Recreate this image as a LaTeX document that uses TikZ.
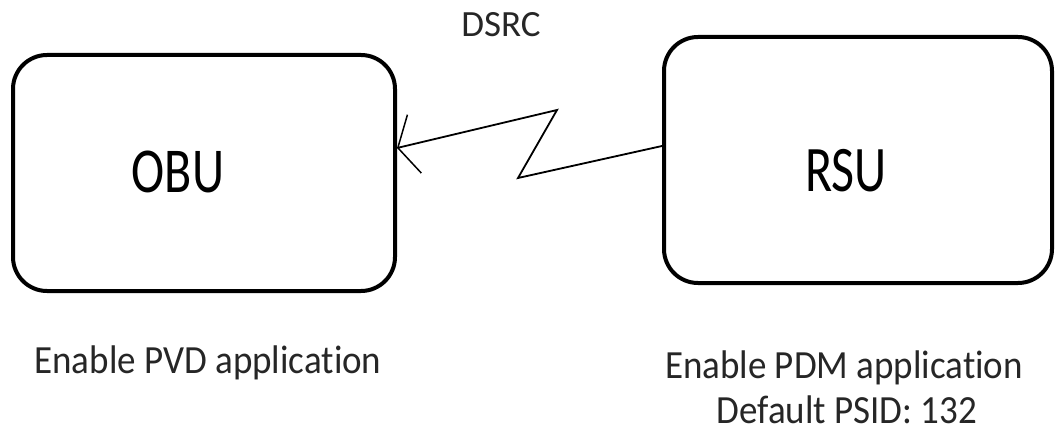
\documentclass[tikz,border=0pt]{standalone}
\usepackage{fontspec}
\setmainfont[Ligatures={NoCommon}]{Carlito}
\usetikzlibrary{arrows.meta,calc}
\begin{document}
\begin{tikzpicture}[x=1pt,y=1pt,
  unitbox/.style={draw=black, line width=4pt, rounded corners=34pt, inner sep=0pt},
  biglabel/.style={inner sep=0pt, anchor=base, font=\fontsize{50}{60}\selectfont},
  smalltext/.style={inner sep=0pt, anchor=base, font=\fontsize{37}{44}\selectfont, text=black!85},
  zig/.style={line width=1.8pt, line join=miter}]
\useasboundingbox (0,0) rectangle (1055,437);
\node[unitbox, minimum width=382pt, minimum height=236pt] (obu) at (204,264) {};
\node[unitbox, minimum width=388pt, minimum height=246pt] (rsu) at (858,277) {};
\node[biglabel] (obulabel) at (178,244) {\scalebox{1}[1.28]{OBU}};
\node[biglabel] (rsulabel) at (846,245) {\scalebox{1}[1.3]{RSU}};
\node[smalltext] (dsrc) at (501,400) {DSRC};
\node[smalltext] (pvd) at (208,64) {\scalebox{1}[1.08]{Enable PVD application}};
\node[smalltext] (pdm) at (844,59) {\scalebox{1}[1.08]{Enable PDM application}};
\node[smalltext] (psid) at (847,14) {\scalebox{1}[1.08]{Default PSID: 132}};
\coordinate (tip) at ($(obu.east)+(0,25)$);
\coordinate (za) at (557,327);
\coordinate (zb) at (518,259);
\coordinate (src) at ($(rsu.west)+(0,14)$);
\draw[zig, {Straight Barb[length=17pt,width=60pt,line width=1.5pt]}-] (tip) -- (za) -- (zb) -- (src);
\end{tikzpicture}
\end{document}
